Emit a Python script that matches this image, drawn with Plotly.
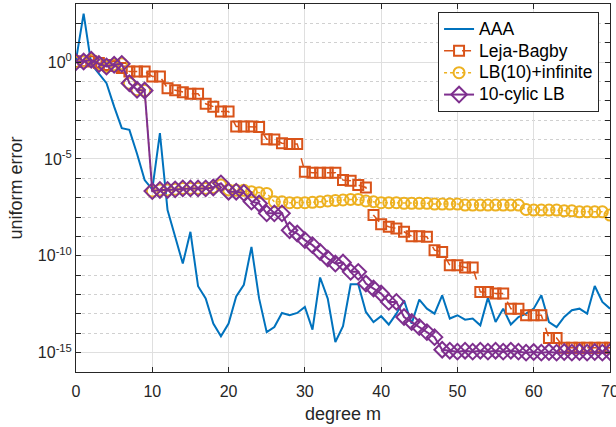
import plotly.graph_objects as go

degree = list(range(71))

# log10 of the uniform error
aaa_log10 = [0.1, 2.5, -0.1, -0.6, -1.09, -2.3, -3.41, -3.5, -4.73, -6.09,
             -6.57, -3.67, -7.64, -9.02, -10.4, -8.76, -11.57, -12.2, -13.5, -14.16,
             -13.5, -12.1, -11.5, -9.54, -12.2, -13.94, -13.68, -12.95, -13.07, -12.95,
             -12.64, -13.81, -11.12, -12.21, -14.45, -13.64, -11.47, -11.47, -12.9, -13.42,
             -13.12, -13.55, -12.99, -12.3, -13.5, -12.26, -12.73, -12.99, -12.04, -13.24,
             -13.07, -13.3, -13.24, -13.59, -12.16, -13.42, -12.73, -13.55, -13.16, -12.99,
             -12.73, -12.04, -13.42, -13.68, -13.16, -12.81, -12.73, -12.99, -11.56, -12.38,
             -12.73]

leja_log10 = [0.0, 0.05, 0.05, -0.05, -0.15, -0.2, -0.3, -0.49, -0.49, -0.49,
              -0.74, -0.74, -1.35, -1.45, -1.55, -1.64, -1.64, -2.15, -2.3, -2.55,
              -2.55, -3.33, -3.33, -3.33, -3.35, -3.98, -4.0, -4.19, -4.23, -4.23,
              -5.66, -5.71, -5.71, -5.71, -5.71, -6.09, -6.12, -6.35, -6.47, -7.9,
              -8.37, -8.5, -8.59, -8.76, -8.99, -8.99, -9.02, -9.71, -9.8, -10.49,
              -10.49, -10.6, -10.6, -11.87, -11.87, -11.95, -11.95, -12.73, -12.73, -13.07,
              -13.07, -13.07, -14.25, -14.25, -14.75, -14.75, -14.75, -14.75, -14.75, -14.75,
              -14.75]

lb10inf_log10 = [0.0, 0.03, 0.12, -0.1, -0.23, -0.14, -0.09, -1.09, -1.43, -1.47,
                 -6.66, -6.6, -6.6, -6.57, -6.52, -6.52, -6.52, -6.52, -6.47, -6.35,
                 -6.6, -6.62, -6.62, -6.7, -6.75, -6.78, -7.21, -7.21, -7.26, -7.26,
                 -7.26, -7.24, -7.21, -7.17, -7.14, -7.12, -7.09, -7.09, -7.17, -7.21,
                 -7.26, -7.26, -7.26, -7.29, -7.29, -7.29, -7.29, -7.33, -7.33, -7.33,
                 -7.33, -7.38, -7.38, -7.38, -7.38, -7.38, -7.38, -7.38, -7.38, -7.61,
                 -7.64, -7.64, -7.64, -7.64, -7.68, -7.68, -7.73, -7.73, -7.73, -7.73,
                 -7.9]

cyclic_log10 = [0.0, 0.03, 0.12, -0.1, -0.23, -0.14, -0.09, -1.09, -1.43, -1.47,
                -6.66, -6.6, -6.6, -6.57, -6.52, -6.52, -6.52, -6.52, -6.47, -6.26,
                -6.69, -6.69, -6.75, -7.2, -7.3, -7.81, -7.81, -7.81, -8.68, -8.85,
                -9.19, -9.45, -9.8, -10.14, -10.4, -10.35, -10.83, -10.83, -11.43, -11.69,
                -11.95, -12.38, -12.38, -13.16, -13.42, -13.68, -13.94, -14.2, -14.85, -14.9,
                -14.95, -14.9, -14.95, -14.9, -14.95, -14.9, -14.95, -14.9, -14.95, -15.0,
                -14.97, -15.0, -14.97, -15.0, -14.97, -15.0, -14.97, -15.0, -14.97, -15.0,
                -14.97]

series_names = ["AAA", "Leja-Bagby", "LB(10)+infinite", "10-cylic LB"]
x_ticks = [0, 10, 20, 30, 40, 50, 60, 70]
major_exp = [-15, -10, -5, 0]
major_text = ["10<sup>-15</sup>", "10<sup>-10</sup>", "10<sup>-5</sup>", "10<sup>0</sup>"]
minor_exp = [e for e in range(-16, 4) if e not in major_exp]

FONT = "Liberation Sans, Arial, sans-serif"

def vals(logs):
    return [10 ** v for v in logs]

def lname(s):
    return '<span style="font-size:17.5px">' + s + "</span>"

fig = go.Figure()
fig.add_trace(go.Scatter(x=degree, y=vals(aaa_log10), mode="lines", name=lname(series_names[0]),
                         line=dict(color="#0072BD", width=2)))
fig.add_trace(go.Scatter(x=degree, y=vals(leja_log10), mode="lines+markers", name=lname(series_names[1]),
                         line=dict(color="#D95319", width=1.5, dash="dash"),
                         marker=dict(symbol="square-open", size=10, color="#D95319",
                                     line=dict(width=2, color="#D95319"))))
fig.add_trace(go.Scatter(x=degree, y=vals(lb10inf_log10), mode="lines+markers", name=lname(series_names[2]),
                         line=dict(color="#EDB120", width=1.5, dash="dot"),
                         marker=dict(symbol="circle-open", size=11, color="#EDB120",
                                     line=dict(width=2, color="#EDB120"))))
fig.add_trace(go.Scatter(x=degree, y=vals(cyclic_log10), mode="lines+markers", name=lname(series_names[3]),
                         line=dict(color="#7E2F8E", width=2),
                         marker=dict(symbol="diamond-open", size=12, color="#7E2F8E",
                                     line=dict(width=2, color="#7E2F8E"))))

fig.update_layout(
    width=616, height=427,
    margin=dict(l=76, r=6, t=4, b=55, autoexpand=False),
    paper_bgcolor="white", plot_bgcolor="white",
    font=dict(family=FONT, size=16, color="#262626"),
    showlegend=True,
    legend=dict(x=0.678, y=0.978, xanchor="left", yanchor="top",
                bgcolor="white", bordercolor="#262626", borderwidth=1,
                font=dict(family=FONT, size=14.5, color="#000000"),
                itemwidth=30, tracegroupgap=0),
    xaxis=dict(range=[0, 70], tickmode="array", tickvals=x_ticks, automargin=False,
               ticks="inside", ticklen=5, tickcolor="#262626",
               ticklabeloverflow="allow", ticklabelstandoff=5,
               showline=True, linecolor="#262626", linewidth=1, mirror="ticks",
               showgrid=True, gridcolor="#DFDFDF", gridwidth=1, zeroline=False,
               title=dict(text="degree m", font=dict(size=18), standoff=8)),
    yaxis=dict(type="log", range=[-16, 3], tickmode="array", automargin=False,
               tickvals=[10.0 ** e for e in major_exp], ticktext=major_text,
               ticks="inside", ticklen=5, tickcolor="#262626",
               showline=True, linecolor="#262626", linewidth=1, mirror="ticks",
               showgrid=True, gridcolor="#DFDFDF", gridwidth=1, zeroline=False,
               minor=dict(tickmode="array", tickvals=[10.0 ** e for e in minor_exp],
                          ticks="inside", ticklen=5, tickcolor="#262626",
                          showgrid=True, gridcolor="#D0D0D0", griddash="dot", gridwidth=1),
               title=dict(text="uniform error", font=dict(size=18), standoff=10)),
)

fig.write_html("out.html", config={"displayModeBar": False},
               post_script="document.body.style.margin='0px';document.body.style.overflow='hidden';")
